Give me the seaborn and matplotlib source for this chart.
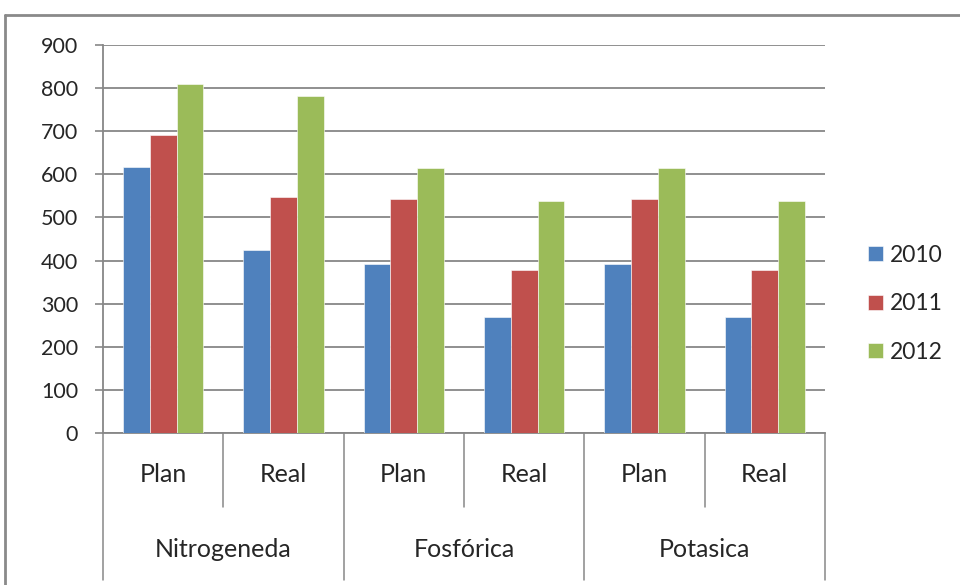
import matplotlib
matplotlib.use("Agg")
import matplotlib.pyplot as plt
import matplotlib.transforms as mtransforms
from matplotlib.lines import Line2D
import pandas as pd
import seaborn as sns

# Fertilizer groups, plan/real sub-categories and yearly values
groups = ["Nitrogeneda", "Fosfórica", "Potasica"]
subcats = ["Plan", "Real"]
years = ["2010", "2011", "2012"]
v2010 = [618, 424, 391, 270, 391, 270]
v2011 = [692, 547, 543, 377, 543, 377]
v2012 = [809, 782, 615, 537, 615, 537]
yticks = [0, 100, 200, 300, 400, 500, 600, 700, 800, 900]
colors = ["#4F81BD", "#C0504D", "#9BBB59"]

keys = [f"{g}|{s}" for g in groups for s in subcats]
rows = []
for year, vals in zip(years, [v2010, v2011, v2012]):
    for k, v in zip(keys, vals):
        rows.append({"cat": k, "year": year, "value": v})
df = pd.DataFrame(rows)

sns.set_theme(style="white")
plt.rcParams["font.family"] = ["Lato", "DejaVu Sans"]
FS_Y = 15.5
FS_CAT = 18
FS_LEG = 16.5
TXT = "#262626"
GRID = "#878787"

fig = plt.figure(figsize=(9.6, 5.85), dpi=100)
ax = fig.add_axes([103 / 960, 1 - 433 / 585, 722 / 960, 388 / 585])

sns.barplot(data=df, x="cat", y="value", hue="year", order=keys,
            hue_order=years, palette=colors, saturation=1, width=0.667,
            edgecolor="white", linewidth=0.4, ax=ax, zorder=3)

ax.set_xlim(-0.5, len(keys) - 0.5)
ax.set_ylim(0, 900)
ax.set_yticks(yticks)
ax.set_yticklabels([str(t) for t in yticks], fontsize=FS_Y, color=TXT)
ax.yaxis.grid(True, color=GRID, linewidth=1.3, zorder=0)
ax.set_axisbelow(True)
ax.tick_params(axis="y", length=6, width=1.2, color=GRID, pad=12, left=True)
ax.tick_params(axis="x", length=0, labelbottom=False)
ax.set_xlabel("")
ax.set_ylabel("")
for side in ["top", "right"]:
    ax.spines[side].set_visible(False)
for side in ["left", "bottom"]:
    ax.spines[side].set_color(GRID)
    ax.spines[side].set_linewidth(1.3)

# Two-level category axis: sub-labels, group labels and separators
trans = mtransforms.blended_transform_factory(ax.transData, ax.transAxes)
for i, k in enumerate(keys):
    ax.text(i, -0.106, k.split("|")[1], transform=trans, ha="center",
            va="center", fontsize=FS_CAT, color=TXT)
for gi, g in enumerate(groups):
    ax.text(gi * 2 + 0.5, -0.299, g, transform=trans, ha="center",
            va="center", fontsize=FS_CAT, color=TXT)
for b in range(len(keys) + 1):
    x = b - 0.5
    ybot = -0.379 if b % 2 == 0 else -0.19
    ax.add_line(Line2D([x, x], [0, ybot], transform=trans, color=GRID,
                       linewidth=1.1, clip_on=False))

# Legend
sns.move_legend(ax, "center left", bbox_to_anchor=(0.883, 1 - 304 / 585),
                bbox_transform=fig.transFigure, frameon=False, title=None,
                fontsize=FS_LEG, handlelength=0.63, handleheight=0.63,
                handletextpad=0.3, labelspacing=1.2)
for t in ax.get_legend().get_texts():
    t.set_color(TXT)

# Chart frame
fig.add_artist(Line2D([5 / 960, 1], [1 - 15 / 585, 1 - 15 / 585],
                      transform=fig.transFigure, color="#8a8a8a", linewidth=2))
fig.add_artist(Line2D([5 / 960, 5 / 960], [0, 1 - 15 / 585],
                      transform=fig.transFigure, color="#8a8a8a", linewidth=2))

fig.savefig("out.png", dpi=100, facecolor="white")
